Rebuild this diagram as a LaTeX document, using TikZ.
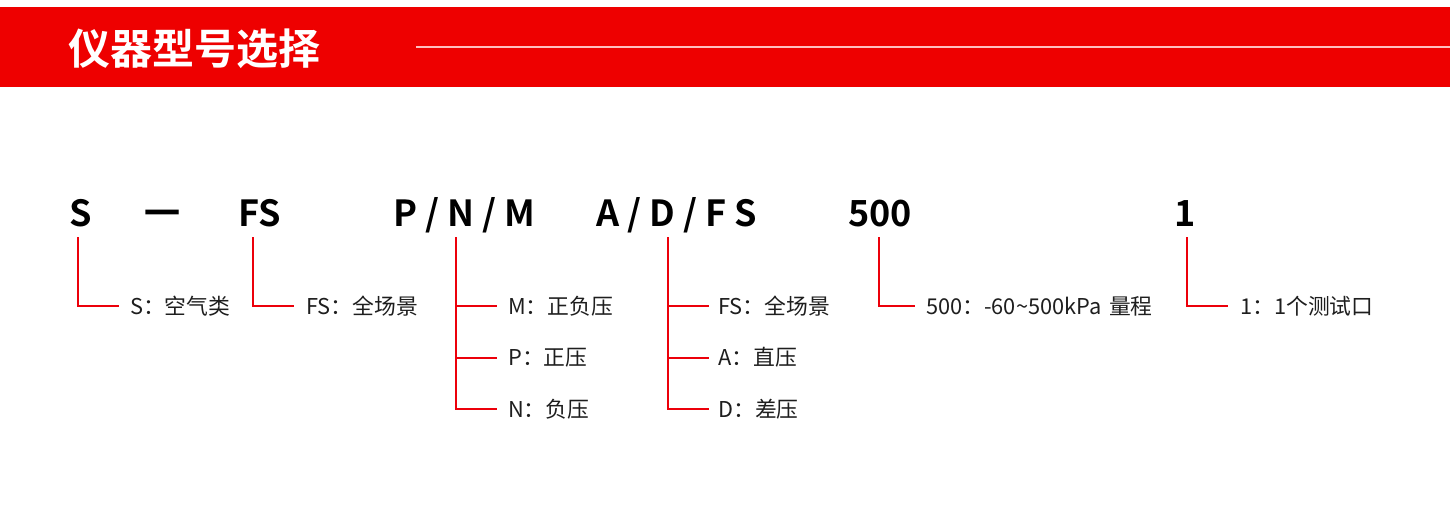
\documentclass[tikz,border=0pt]{standalone}
\usepackage{fontspec}
\newfontfamily\cjk[BoldFont={Noto Sans CJK SC Bold}]{Noto Sans CJK SC}
\definecolor{bannerred}{RGB}{238,0,0}
\definecolor{linered}{RGB}{236,0,10}
\definecolor{pinkline}{RGB}{255,190,190}
\definecolor{labgray}{RGB}{30,30,30}
\begin{document}
\begin{tikzpicture}[x=1pt,y=-1pt,
  code/.style={anchor=base west, inner sep=0pt, font=\cjk\bfseries\fontsize{36}{40}\selectfont, text=black},
  lab/.style={anchor=base west, inner sep=0pt, font=\cjk\fontsize{21.8}{24}\selectfont, text=labgray},
  title/.style={anchor=base west, inner sep=0pt, font=\cjk\bfseries\fontsize{42}{46}\selectfont, text=white},
  conn/.style={draw=linered, line width=2pt}]
\useasboundingbox (0,0) rectangle (1450,514);
% banner
\fill[bannerred] (0,7) rectangle (1450,87);
\coordinate (wlA) at (416,46.7);
\coordinate (wlB) at (1450,46.7);
\draw[pinkline, line width=1.6pt] (wlA) -- (wlB);
\node[title] (ttl) at (68,64) {仪器型号选择};
% code row
\node[code] (cS) at (69,226) {S};
\node[code] (cDash) at (144.5,226) {一};
\node[code] (cFS) at (238,226) {FS};
\node[code] (cPNM) at (393,226) {P / N / M};
\node[code] (cADF) at (596,226) {A / D / F S};
\node[code] (c500) at (848,226) {500};
\node[code] (c1) at (1174,226) {1};
% labels
\node[lab] (lS) at (130,314) {S：空气类};
\node[lab] (lFS) at (306,314) {FS：全场景};
\node[lab] (lM) at (508,314) {M：正负压};
\node[lab] (lP) at (508,365.5) {P：正压};
\node[lab] (lN) at (508,417) {N：负压};
\node[lab] (lFS2) at (718,314) {FS：全场景};
\node[lab] (lA) at (718,365.5) {A：直压};
\node[lab] (lD) at (718,417) {D：差压};
\node[lab] (l500) at (926,314) {500：-60\textasciitilde500kPa\hspace{0.35em}量程};
\node[lab] (l1) at (1240,314) {1：1个测试口};
% connector coordinates
\coordinate (tS) at (78,237);   \coordinate (kS) at (78,306);   \coordinate (eS) at (119,306);
\coordinate (tF) at (253,237);  \coordinate (kF) at (253,306);  \coordinate (eF) at (294,306);
\coordinate (tP) at (456,237);  \coordinate (kP3) at (456,409);
\coordinate (kP1) at (456,306); \coordinate (kP2) at (456,357.5);
\coordinate (eP1) at (497,306); \coordinate (eP2) at (497,357.5); \coordinate (eP3) at (497,409);
\coordinate (tA) at (668,237);  \coordinate (kA3) at (668,409);
\coordinate (kA1) at (668,306); \coordinate (kA2) at (668,357.5);
\coordinate (eA1) at (709,306); \coordinate (eA2) at (709,357.5); \coordinate (eA3) at (709,409);
\coordinate (t5) at (879,237);  \coordinate (k5) at (879,306);  \coordinate (e5) at (915,306);
\coordinate (t1) at (1187,237); \coordinate (k1) at (1187,306); \coordinate (e1) at (1228,306);
% connectors
\draw[conn] (tS) -- (kS) -- (eS);
\draw[conn] (tF) -- (kF) -- (eF);
\draw[conn] (tP) -- (kP3) -- (eP3);
\draw[conn] (kP1) -- (eP1);
\draw[conn] (kP2) -- (eP2);
\draw[conn] (tA) -- (kA3) -- (eA3);
\draw[conn] (kA1) -- (eA1);
\draw[conn] (kA2) -- (eA2);
\draw[conn] (t5) -- (k5) -- (e5);
\draw[conn] (t1) -- (k1) -- (e1);
\end{tikzpicture}
\end{document}
